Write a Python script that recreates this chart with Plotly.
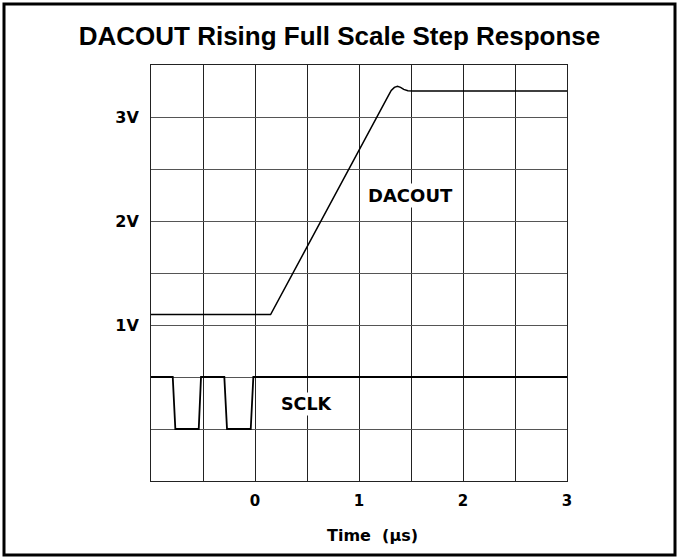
import plotly.graph_objects as go

# DACOUT waveform (time in µs, volts)
dac_t = [-1.0, 0.15, 1.28, 1.31, 1.34, 1.37, 1.40, 1.43, 1.47, 1.52, 3.0]
dac_v = [1.1, 1.1, 3.2, 3.255, 3.285, 3.295, 3.285, 3.265, 3.252, 3.25, 3.25]

# SCLK waveform (time in µs, display level)
sclk_t = [-1.0, -0.791, -0.766, -0.541, -0.519, -0.295, -0.269, -0.041, -0.016, 3.0]
sclk_v = [0.5, 0.5, 0.0, 0.0, 0.5, 0.5, 0.0, 0.0, 0.5, 0.5]

x_grid = [-1, -0.5, 0, 0.5, 1, 1.5, 2, 2.5, 3]
x_labels = ["", "", "0", "", "1", "", "2", "", "3"]
y_grid = [-0.5, 0, 0.5, 1, 1.5, 2, 2.5, 3, 3.5]
y_labels = ["", "", "", "1V", "", "2V", "", "3V", ""]

W, H = 679, 559
L, R, T, B = 151, 112, 65, 78
PW, PH = W - L - R, H - T - B

fig = go.Figure()
fig.add_trace(go.Scatter(x=dac_t, y=dac_v, mode="lines", line=dict(color="black", width=1.5), showlegend=False, hoverinfo="skip"))
fig.add_trace(go.Scatter(x=sclk_t, y=sclk_v, mode="lines", line=dict(color="black", width=1.8), showlegend=False, hoverinfo="skip"))

fig.add_annotation(x=1.493, y=2.242, text="DACOUT", showarrow=False,
                   font=dict(family="DejaVu Sans", size=18, color="black", weight="bold"), bgcolor="white", borderpad=1)
fig.add_annotation(x=0.5, y=0.24, text="SCLK", showarrow=False,
                   font=dict(family="DejaVu Sans", size=17.5, color="black", weight="bold"), bgcolor="white", borderpad=1)

def px(xp):
    return (xp - L) / PW
def py(yp):
    return (H - B - yp) / PH

fig.add_annotation(xref="paper", yref="paper", x=px(372), y=py(535), text="Time  (µs)", showarrow=False,
                   font=dict(family="DejaVu Sans", size=16, color="black", weight="bold"), xanchor="center", yanchor="middle")

fig.add_shape(type="rect", xref="paper", yref="paper", x0=px(4), x1=px(675), y0=py(555), y1=py(4),
              line=dict(color="black", width=3), fillcolor="rgba(0,0,0,0)", layer="above")

fig.update_layout(
    width=W, height=H, margin=dict(l=L, r=R, t=T, b=B),
    paper_bgcolor="white", plot_bgcolor="white",
    title=dict(text="DACOUT Rising Full Scale Step Response", x=0.5, xref="container", xanchor="center",
               y=1 - 36 / H, yref="container", yanchor="middle",
               font=dict(family="Liberation Sans", size=26, color="black", weight="bold")),
    xaxis=dict(range=[-1, 3], tickvals=x_grid, ticktext=x_labels, showgrid=True, gridcolor="#222", gridwidth=1,
               zeroline=False, showline=True, linecolor="#222", linewidth=1, mirror=True, ticks="",
               tickfont=dict(family="DejaVu Sans", size=15, color="black", weight="bold"), ticklabelstandoff=6),
    yaxis=dict(range=[-0.5, 3.5], tickvals=y_grid, ticktext=y_labels, showgrid=True, gridcolor="#555", gridwidth=1.2,
               zeroline=False, showline=True, linecolor="#222", linewidth=1, mirror=True, ticks="",
               tickfont=dict(family="DejaVu Sans", size=16, color="black", weight="bold"), ticklabelstandoff=8),
)

fig.write_html("out.html", config={"displayModeBar": False},
               post_script="document.body.style.margin='0';document.body.style.padding='0';")
